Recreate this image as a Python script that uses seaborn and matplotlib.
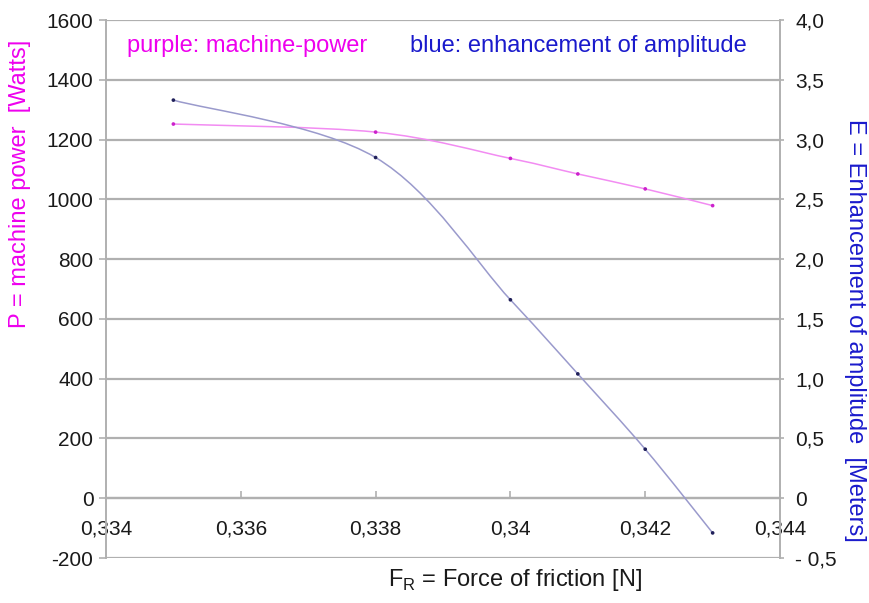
import matplotlib
matplotlib.use("Agg")
import matplotlib.pyplot as plt
import seaborn as sns
import numpy as np
import pandas as pd
from matplotlib.path import Path
from matplotlib.patches import PathPatch

# ---- data ----
friction = [0.335, 0.338, 0.340, 0.341, 0.342, 0.343]
power = [1252, 1225, 1137, 1085, 1035, 979]
enhancement = [3.33, 2.85, 1.66, 1.04, 0.41, -0.29]
x_ticks = [0.334, 0.336, 0.338, 0.340, 0.342, 0.344]
x_ticklabels = ["0,334", "0,336", "0,338", "0,34", "0,342", "0,344"]
left_ticks = [-200, 0, 200, 400, 600, 800, 1000, 1200, 1400, 1600]
left_ticklabels = ["-200", "0", "200", "400", "600", "800", "1000", "1200", "1400", "1600"]
right_ticks = [-0.5, 0.0, 0.5, 1.0, 1.5, 2.0, 2.5, 3.0, 3.5, 4.0]
right_ticklabels = ["- 0,5", "0", "0,5", "1,0", "1,5", "2,0", "2,5", "3,0", "3,5", "4,0"]

sns.set_theme(style="white")
plt.rcParams["font.family"] = ["Liberation Sans", "DejaVu Sans"]

df = pd.DataFrame({"F": friction, "P": power, "E": enhancement})

fig = plt.figure(figsize=(8.7, 6.03), dpi=100)
fig.patch.set_facecolor("white")
ax = fig.add_axes([0.1218, 0.0746, 0.7748, 0.8922])
ax.set_xlim(0.334, 0.344)
ax.set_ylim(-200, 1600)
ax2 = ax.twinx()
ax2.set_ylim(-0.5, 4.0)

grid_c = "#b0b0b0"
text_c = "#1a1a1a"


def smooth_path(xs, ys):
    # Excel-style smoothed line: cubic Bezier with Catmull-Rom tangents
    pts = np.column_stack([xs, ys]).astype(float)
    n = len(pts)
    verts = [pts[0]]
    codes = [Path.MOVETO]
    for i in range(n - 1):
        p0 = pts[i - 1] if i > 0 else pts[i]
        p1 = pts[i]
        p2 = pts[i + 1]
        p3 = pts[i + 2] if i + 2 < n else pts[i + 1]
        c1 = p1 + (p2 - p0) / 6.0
        c2 = p2 - (p3 - p1) / 6.0
        verts += [c1, c2, p2]
        codes += [Path.CURVE4] * 3
    return Path(verts, codes)


ax.add_patch(PathPatch(smooth_path(friction, power), fill=False,
                       edgecolor="#f28cf2", lw=1.1, zorder=3))
ax2.add_patch(PathPatch(smooth_path(friction, enhancement), fill=False,
                        edgecolor="#9a9acc", lw=1.1, zorder=3))
sns.scatterplot(data=df, x="F", y="P", ax=ax, color="#cc22cc", s=7,
                edgecolor="none", zorder=4, legend=False)
sns.scatterplot(data=df, x="F", y="E", ax=ax2, color="#20205a", s=7,
                edgecolor="none", zorder=4, legend=False)
ax.set_xlim(0.334, 0.344)
ax.set_ylim(-200, 1600)
ax2.set_ylim(-0.5, 4.0)

# grid
for v in left_ticks:
    ax.axhline(v, color=grid_c, lw=1.6, zorder=1)

# spines
ax.spines["top"].set_visible(False)
ax2.spines["top"].set_visible(False)
ax.spines["right"].set_visible(False)
ax2.spines["left"].set_visible(False)
ax2.spines["bottom"].set_visible(False)
ax.spines["left"].set_color(grid_c)
ax.spines["left"].set_linewidth(1.4)
ax2.spines["right"].set_color(grid_c)
ax2.spines["right"].set_linewidth(1.4)
ax.spines["bottom"].set_position(("data", 0))
ax.spines["bottom"].set_color(grid_c)
ax.spines["bottom"].set_linewidth(1.6)

# ticks
fs_tick = 15
ax.set_xticks(x_ticks)
ax.set_xticklabels(x_ticklabels)
ax.tick_params(axis="x", direction="in", length=5, width=1.2, color=grid_c,
               pad=15, labelsize=fs_tick, labelcolor=text_c, bottom=True)
ax.set_yticks(left_ticks)
ax.set_yticklabels(left_ticklabels)
ax.tick_params(axis="y", direction="out", length=5, width=1.2, color=grid_c,
               pad=4, labelsize=fs_tick, labelcolor=text_c, left=True)
ax2.set_yticks(right_ticks)
ax2.set_yticklabels(right_ticklabels)
ax2.tick_params(axis="y", direction="out", length=3, width=1.2, color=grid_c,
                pad=8, labelsize=fs_tick, labelcolor=text_c, right=True)
ax.set_xlabel("")
ax.set_ylabel("")
ax2.set_ylabel("")

# annotations
fs_lab = 17
ax.text(0.031, 0.951, "purple: machine-power", transform=ax.transAxes,
        color="#ee00ee", fontsize=fs_lab, ha="left", va="center")
ax.text(0.451, 0.951, "blue: enhancement of amplitude", transform=ax.transAxes,
        color="#1a1acc", fontsize=fs_lab, ha="left", va="center")

fig.text(20 / 870, 1 - 184 / 603, "P = machine power  [Watts]", rotation=90,
         color="#ee00ee", fontsize=fs_lab, ha="center", va="center")
fig.text(855 / 870, 1 - 330 / 603, "E = Enhancement of amplitude  [Meters]",
         rotation=270, color="#1a1acc", fontsize=fs_lab, ha="center", va="center")
fig.text(515 / 870, 1 - 580 / 603, r"F$_{\mathregular{R}}$ = Force of friction [N]",
         color=text_c, fontsize=17, ha="center", va="center")

fig.savefig("out.png", dpi=100, facecolor="white")
